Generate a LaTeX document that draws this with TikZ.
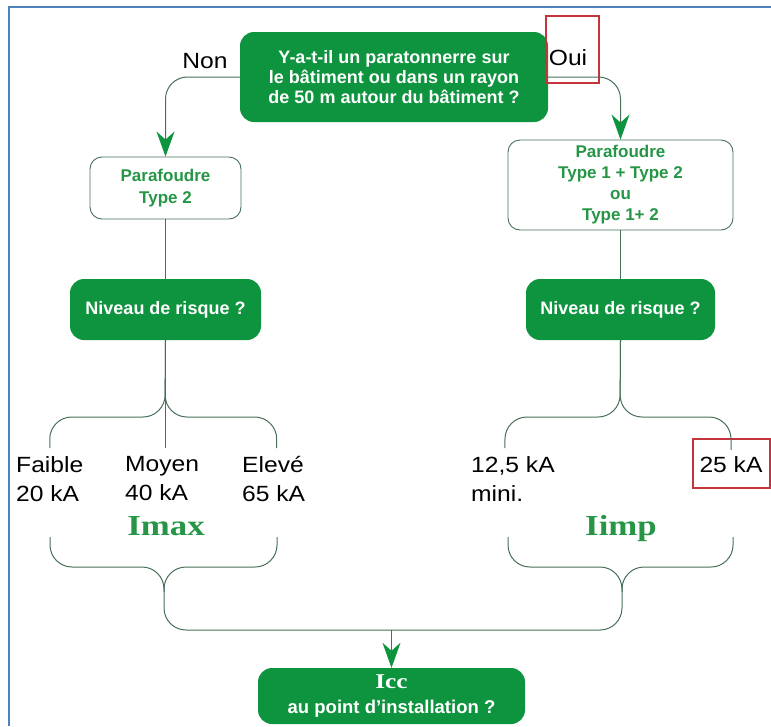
\documentclass[tikz,border=0pt]{standalone}
\usepackage{fontspec}
\setmainfont{Liberation Sans}
\newfontfamily\serifbold{Liberation Serif}[FakeStretch=1.2]
\newfontfamily\widesans{Liberation Sans}[FakeStretch=1.12]
\usetikzlibrary{arrows.meta, positioning}
\definecolor{boxgreen}{RGB}{14,148,62}
\definecolor{textgreen}{RGB}{38,150,70}
\definecolor{linegray}{RGB}{72,112,88}
\definecolor{frameblue}{RGB}{79,129,189}
\definecolor{markred}{RGB}{196,52,60}
\tikzset{
    ask_box/.style={
        fill=boxgreen,
        text=white,
        rounded corners=14pt,
        align=center,
        font=\bfseries\fontsize{18}{20}\selectfont
    },
    type_box/.style={
        draw=linegray,
        line width=0.9pt,
        fill=white,
        text=textgreen,
        rounded corners=12pt,
        align=center,
        font=\bfseries\fontsize{17}{22}\selectfont
    },
    link/.style={draw=linegray, line width=1pt},
    link_arrow/.style={link, -{Stealth[length=25pt, width=18pt, inset=8pt, color=boxgreen]}},
    kA_value/.style={anchor=north west, align=left, inner sep=2pt, font=\widesans\fontsize{22}{29}\selectfont},
    answer/.style={anchor=base, inner sep=0pt, font=\widesans\fontsize{22}{22}\selectfont},
    current/.style={anchor=base, inner sep=0pt, text=textgreen, font=\serifbold\bfseries\fontsize{29}{29}\selectfont},
    marker/.style={draw=markred, line width=1.2pt}
}

\begin{document}
\begin{tikzpicture}[x=1pt, y=-1pt]
    \useasboundingbox (0,0) rectangle (771,726);
    % frame : only top and left edges are visible
    \draw[frameblue, line width=2.6pt] (9,726) -- (9,7) -- (771,7);

    % Question : lightning rod ?
    \node[ask_box, minimum width=308pt, minimum height=90pt] (q) at (394,77)
        {Y-a-t-il un paratonnerre sur\\le bâtiment ou dans un rayon\\de 50 m autour du bâtiment ?};
    \node[answer] (non) at (205,68) {Non};
    \node[answer] (oui) at (568,65) {Oui};
    \draw[marker] (546,16) rectangle (599,83);

    % Surge protector boxes
    \node[type_box, minimum width=151pt, minimum height=62pt] (p2) at (165.5,188) {Parafoudre\\Type 2};
    \node[type_box, minimum width=225pt, minimum height=90pt, font=\bfseries\fontsize{17}{21}\selectfont] (p12) at (620.5,185)
        {Parafoudre\\Type 1 + Type 2\\ou\\Type 1+ 2};
    \draw[link_arrow, rounded corners=22pt] (q.west) -| (p2.north);
    \draw[link_arrow, rounded corners=22pt] (q.east) -| (p12.north);

    % Risk level
    \node[ask_box, minimum width=191pt, minimum height=61pt] (riskL) at (165.5,309.5) {Niveau de risque ?};
    \node[ask_box, minimum width=189pt, minimum height=61pt] (riskR) at (620.5,309.5) {Niveau de risque ?};
    \draw[link] (p2) -- (riskL);
    \draw[link] (p12) -- (riskR);

    % Values
    \node[kA_value] (faible) at (14,454) {Faible\\20 kA};
    \node[kA_value] (moyen) at (123,454) {Moyen\\40 kA};
    \node[kA_value] (eleve) at (240,454) {Elevé\\65 kA};
    \node[kA_value] (mini) at (469,454) {12,5 kA\\mini.};
    \node[answer] (k25) at (731,472) {25 kA};
    \draw[marker] (693,439) rectangle (770,488);

    % Upper braces
    \coordinate (splitL) at (165,417);
    \coordinate (splitR) at (620,417);
    \draw[link] (riskL.south) -- ([yshift=6pt]riskL.south |- moyen.north);
    \draw[link, rounded corners=22pt] ([yshift=6pt]faible.north) |- (splitL) -- (riskL.south);
    \draw[link, rounded corners=22pt] ([xshift=3pt, yshift=6pt]eleve.north) |- (splitL) -- (riskL.south);
    \draw[link, rounded corners=22pt] ([xshift=-8pt, yshift=6pt]mini.north) |- (splitR) -- (riskR.south);
    \draw[link, rounded corners=22pt] ([yshift=6pt]k25.north) |- (splitR) -- (riskR.south);

    \node[current] (imax) at (166,535) {Imax};
    \node[current] (iimp) at (621,535) {Iimp};

    % Lower braces
    \coordinate (imaxL) at (50,537);
    \coordinate (imaxR) at (277,537);
    \coordinate (iimpL) at (508,537);
    \coordinate (iimpR) at (733,537);
    \coordinate (imaxTip) at (164,567);
    \coordinate (iimpTip) at (622,567);
    \coordinate (bigL) at (164,630);
    \coordinate (bigR) at (622,630);
    \draw[link, rounded corners=22pt] (imaxL) |- (imaxTip) -- (bigL) -- (bigR) -- (iimpTip) -| (iimpR);
    \draw[link, rounded corners=22pt] (imaxR) |- (imaxTip) -- ++(0,25);
    \draw[link, rounded corners=22pt] (iimpL) |- (iimpTip) -- ++(0,25);

    % Short-circuit current
    \node[ask_box, minimum width=267pt, minimum height=56pt, font=\bfseries\fontsize{18.5}{25}\selectfont] (icc) at (391.5,696)
        {{\serifbold\fontsize{21}{25}\selectfont Icc}\\au point d’installation ?};
    \draw[link_arrow] (icc.north |- bigL) -- (icc.north);
\end{tikzpicture}
\end{document}
